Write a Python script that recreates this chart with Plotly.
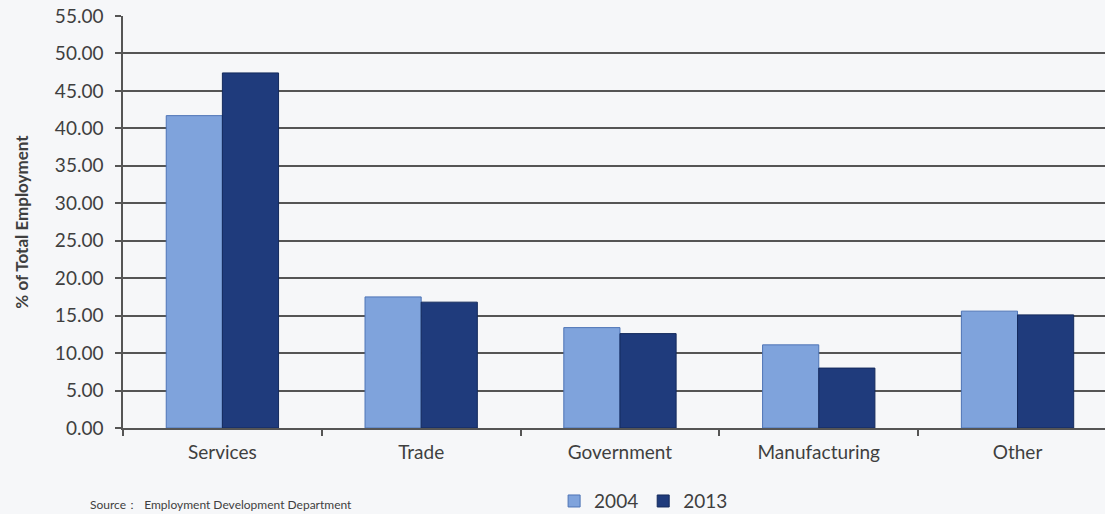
import plotly.graph_objects as go

categories = ["Services", "Trade", "Government", "Manufacturing", "Other"]
values_2004 = [41.7, 17.5, 13.4, 11.1, 15.6]
values_2013 = [47.4, 16.8, 12.6, 8.0, 15.1]
series_names = ["2004", "2013"]
y_ticks = [0, 5, 10, 15, 20, 25, 30, 35, 40, 45, 50, 55]

font_family = "Lato, 'Open Sans', sans-serif"

fig = go.Figure()
fig.add_trace(go.Bar(
    x=categories, y=values_2004, name=series_names[0],
    marker=dict(color="#7fa3dc", line=dict(color="#4e74b6", width=1)),
))
fig.add_trace(go.Bar(
    x=categories, y=values_2013, name=series_names[1],
    marker=dict(color="#1f3b7c", line=dict(color="#142a5c", width=1)),
))

fig.update_layout(
    width=1105, height=514,
    margin=dict(l=123, r=0, t=16, b=86, autoexpand=False),
    paper_bgcolor="#f6f7f9", plot_bgcolor="#f6f7f9",
    barmode="group", bargap=0.435, bargroupgap=0,
    font=dict(family=font_family, color="#3f3f3f"),
    showlegend=True,
    legend=dict(orientation="h", x=0.439, xanchor="left", yref="container", y=0.062, yanchor="top",
                font=dict(size=19, color="#3f3f3f"), bgcolor="rgba(0,0,0,0)",
                itemwidth=30, tracegroupgap=0),
    annotations=[dict(
        text="Source：  Employment Development Department", xref="paper", yref="paper",
        x=-0.036, y=-0.185, xanchor="left", yanchor="middle", showarrow=False,
        font=dict(size=12, color="#3f3f3f", family=font_family),
    )],
)

fig.update_xaxes(
    type="category", range=[-0.5, 4.44], automargin=False,
    showline=True, linecolor="#555555", linewidth=1.5,
    ticks="outside", tickson="boundaries", ticklen=6, tickcolor="#555555", tickwidth=1.5,
    tickfont=dict(size=19, color="#3f3f3f"), showgrid=False, ticklabelstandoff=6,
)
fig.update_yaxes(
    range=[0, 55], tickvals=y_ticks, tickformat=".2f", automargin=False,
    showgrid=True, gridcolor="#555555", gridwidth=1.5,
    showline=True, linecolor="#555555", linewidth=1.5,
    ticks="outside", ticklen=6, tickcolor="#555555", tickwidth=1.5,
    tickfont=dict(size=19, color="#3f3f3f"), ticklabelstandoff=8,
    title=dict(text="<b>% of Total Employment</b>", font=dict(size=17, color="#3f3f3f"), standoff=22),
    zeroline=False,
)

fig.write_html("out.html", config={"displayModeBar": False},
               post_script="document.body.style.margin='0';document.body.style.background='#f6f7f9';")
